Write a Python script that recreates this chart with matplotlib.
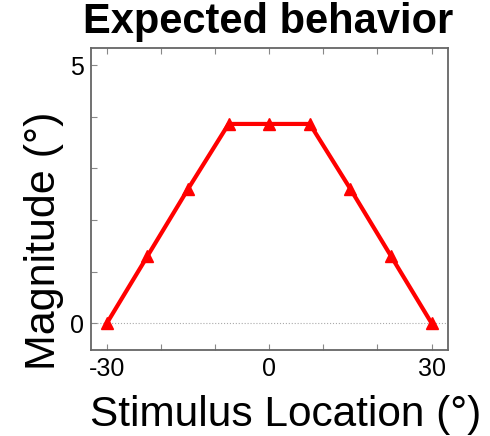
import matplotlib.pyplot as plt
from matplotlib.ticker import MultipleLocator

plt.rcParams['font.family'] = ['Liberation Sans', 'DejaVu Sans']

location = [-30, -22.5, -15, -7.5, 0, 7.5, 15, 22.5, 30]
magnitude = [0, 1.3, 2.6, 3.86, 3.86, 3.86, 2.6, 1.3, 0]

fig = plt.figure(figsize=(4.9, 4.36), dpi=100)
ax = fig.add_axes([0.186, 0.197, 0.728, 0.694])

ax.axhline(0, color='#aaaaaa', linestyle=':', linewidth=0.8, zorder=1)
ax.plot(location, magnitude, color='red', linewidth=3, marker='^', markersize=9, zorder=3)

ax.set_xlim(-32.9, 33)
ax.set_ylim(-0.52, 5.34)
ax.xaxis.set_major_locator(MultipleLocator(10))
ax.yaxis.set_major_locator(MultipleLocator(1))
ax.set_xticklabels(['' if t not in (-30, 0, 30) else str(int(t)) for t in ax.get_xticks()])
ax.set_yticklabels(['' if t not in (0, 5) else str(int(t)) for t in ax.get_yticks()])
ax.tick_params(direction='in', top=True, right=False, length=4, width=0.8,
               color='#888888', labelsize=18, pad=5)
for s in ax.spines.values():
    s.set_color('#666666')
    s.set_linewidth(1.3)

fig.text(0.548, 0.925, 'Expected behavior', fontsize=30, fontweight='bold',
         ha='center', va='baseline')
fig.text(0.582, 0.023, 'Stimulus Location (°)', fontsize=30.5,
         ha='center', va='baseline')
fig.text(0.112, 0.447, 'Magnitude (°)', fontsize=31, rotation=90,
         rotation_mode='anchor', ha='center', va='baseline')

fig.savefig('out.png', dpi=100)
